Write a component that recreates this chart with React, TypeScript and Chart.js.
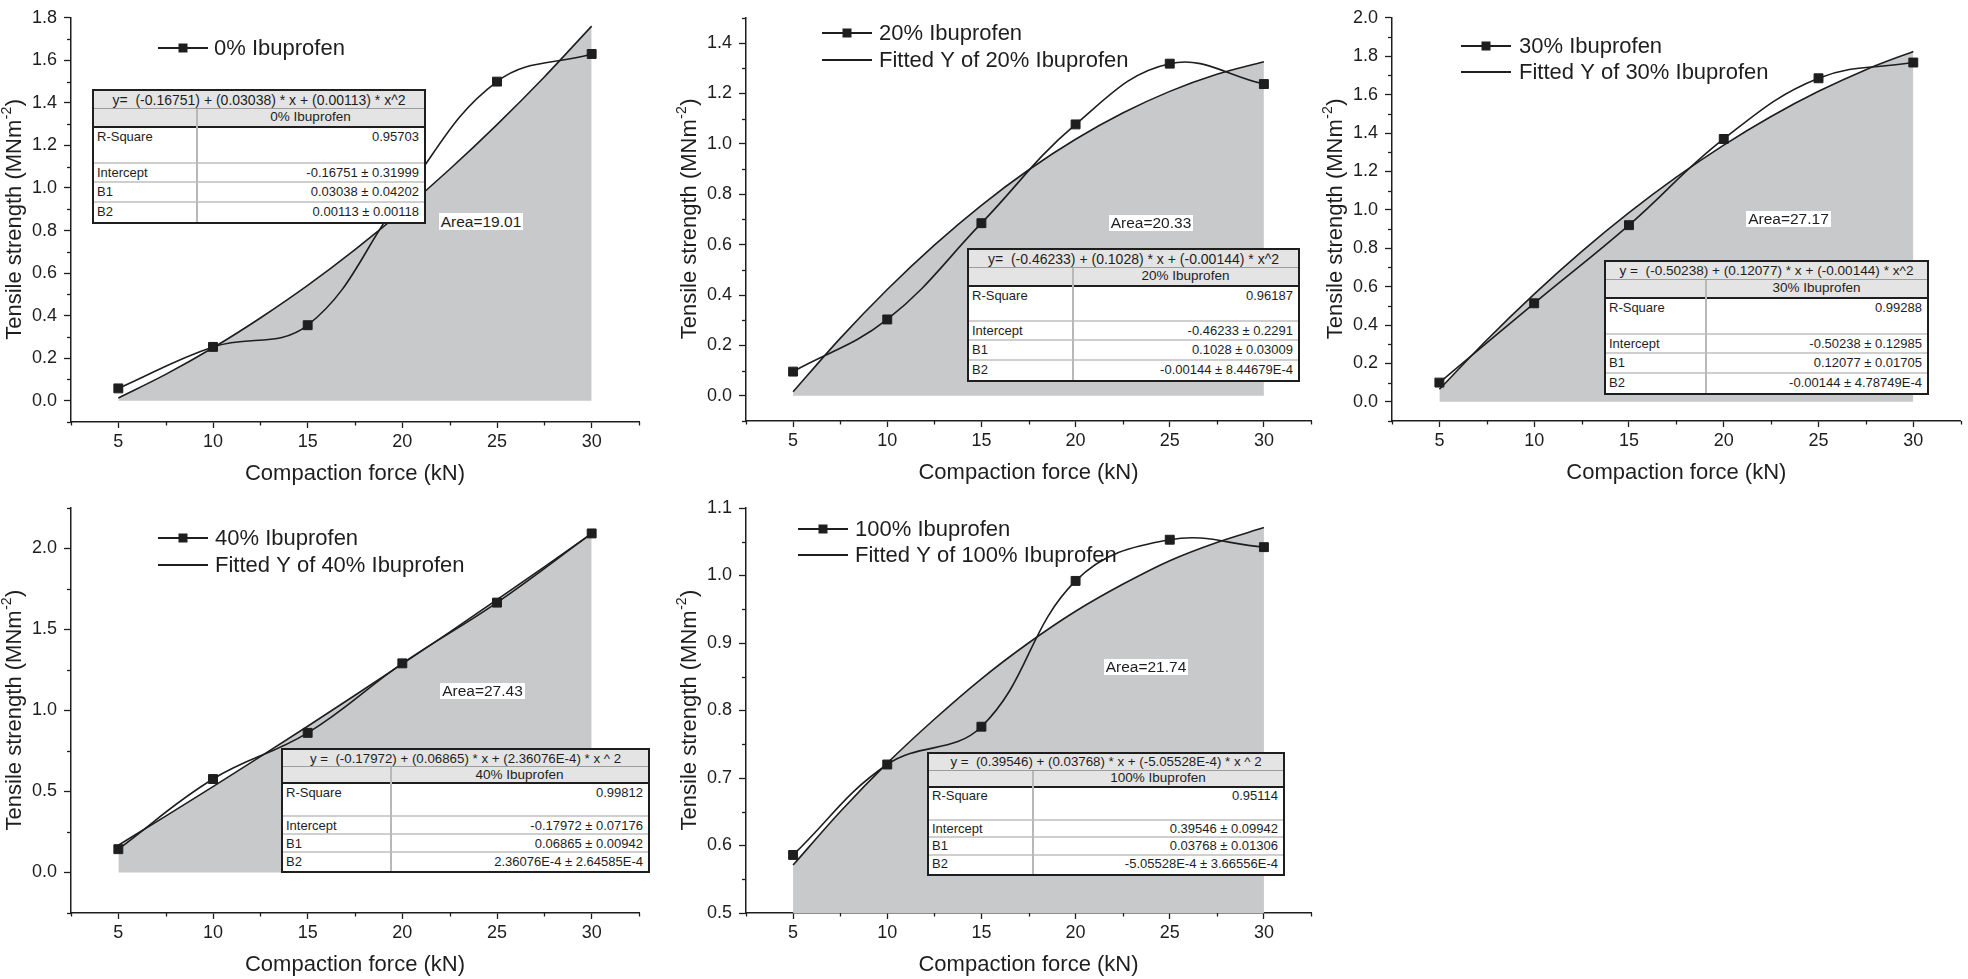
import { useEffect, useRef } from "react";
import { Chart, registerables } from "chart.js";
Chart.register(...registerables);

const FONT = '"Liberation Sans", Arial, Helvetica, sans-serif';
const INK = "#1e1e1e";
const FILL = "#c8c9cb";
const HEAD_BG = "#e4e4e4";

// ---------------- data ----------------
const FORCE_KN = [5, 10, 15, 20, 25, 30];
const FIT_FORCE_KN = [5, 7.5, 10, 12.5, 15, 17.5, 20, 22.5, 25, 27.5, 30];
const X_TICKS = [5, 10, 15, 20, 25, 30];

const TS_0 = [0.058, 0.253, 0.355, 0.96, 1.5, 1.63];
const TS_20 = [0.096, 0.303, 0.685, 1.077, 1.318, 1.237];
const TS_30 = [0.1, 0.513, 0.92, 1.369, 1.685, 1.767];
const TS_40 = [0.144, 0.577, 0.862, 1.291, 1.666, 2.093];
const TS_100 = [0.586, 0.72, 0.776, 0.992, 1.053, 1.042];

const FIT_0 = [0.013, 0.124, 0.249, 0.389, 0.542, 0.71, 0.892, 1.088, 1.298, 1.522, 1.761];
const FIT_20 = [0.016, 0.228, 0.422, 0.598, 0.756, 0.896, 1.018, 1.122, 1.208, 1.276, 1.326];
const FIT_30 = [0.065, 0.322, 0.561, 0.782, 0.985, 1.17, 1.337, 1.486, 1.617, 1.73, 1.825];
const FIT_40 = [0.169, 0.348, 0.53, 0.715, 0.903, 1.094, 1.288, 1.484, 1.684, 1.887, 2.092];
const FIT_100 = [0.571, 0.65, 0.722, 0.787, 0.847, 0.9, 0.947, 0.987, 1.022, 1.049, 1.071];

const Y_TICKS_0 = [0, 0.2, 0.4, 0.6, 0.8, 1.0, 1.2, 1.4, 1.6, 1.8];
const Y_TICKS_20 = [0, 0.2, 0.4, 0.6, 0.8, 1.0, 1.2, 1.4];
const Y_TICKS_30 = [0, 0.2, 0.4, 0.6, 0.8, 1.0, 1.2, 1.4, 1.6, 1.8, 2.0];
const Y_TICKS_40 = [0, 0.5, 1.0, 1.5, 2.0];
const Y_TICKS_100 = [0.5, 0.6, 0.7, 0.8, 0.9, 1.0, 1.1];

const SERIES_NAMES = ["0% Ibuprofen", "20% Ibuprofen", "30% Ibuprofen", "40% Ibuprofen", "100% Ibuprofen"];
const EQUATIONS = [
  "y=  (-0.16751) + (0.03038) * x + (0.00113) * x^2",
  "y=  (-0.46233) + (0.1028) * x + (-0.00144) * x^2",
  "y =  (-0.50238) + (0.12077) * x + (-0.00144) * x^2",
  "y =  (-0.17972) + (0.06865) * x + (2.36076E-4) * x ^ 2",
  "y =  (0.39546) + (0.03768) * x + (-5.05528E-4) * x ^ 2",
];
const R_SQUARE = ["0.95703", "0.96187", "0.99288", "0.99812", "0.95114"];
const INTERCEPTS = ["-0.16751 ± 0.31999", "-0.46233 ± 0.2291", "-0.50238 ± 0.12985", "-0.17972 ± 0.07176", "0.39546 ± 0.09942"];
const B1_VALUES = ["0.03038 ± 0.04202", "0.1028 ± 0.03009", "0.12077 ± 0.01705", "0.06865 ± 0.00942", "0.03768 ± 0.01306"];
const B2_VALUES = ["0.00113 ± 0.00118", "-0.00144 ± 8.44679E-4", "-0.00144 ± 4.78749E-4", "2.36076E-4 ± 2.64585E-4", "-5.05528E-4 ± 3.66556E-4"];
const AREAS = ["Area=19.01", "Area=20.33", "Area=27.17", "Area=27.43", "Area=21.74"];

const X_TITLE = "Compaction force (kN)";
const Y_TITLE = "Tensile strength (MNm";
const Y_TITLE_SUP = "-2";

// ---------------- layout ----------------
type Panel = {
  idx: number;
  data: number[];
  fit: number[];
  yTicks: number[];
  yMin: number;
  yMax: number;
  yMinor: number;
  canvas: { left: number; top: number; w: number; h: number };
  area: { l: number; r: number; t: number; b: number };
  legend: { x1: number; x2: number; tx: number; ys: number[]; fitted: boolean };
  table: { x: number; y: number; w: number; h: number; c1: number; eqSize: number };
  areaBox: { x: number; y: number; w: number; h: number };
};

const PANELS: Panel[] = [
  {
    idx: 0, data: TS_0, fit: FIT_0, yTicks: Y_TICKS_0, yMin: -0.1, yMax: 1.8, yMinor: 0.1,
    canvas: { left: 0, top: 0, w: 656, h: 490 },
    area: { l: 71, r: 639, t: 16, b: 422 },
    legend: { x1: 158, x2: 208, tx: 214, ys: [48], fitted: false },
    table: { x: 92, y: 89, w: 334, h: 135, c1: 103, eqSize: 14 },
    areaBox: { x: 439, y: 213, w: 84, h: 17 },
  },
  {
    idx: 1, data: TS_20, fit: FIT_20, yTicks: Y_TICKS_20, yMin: -0.1, yMax: 1.5, yMinor: 0.1,
    canvas: { left: 660, top: 0, w: 665, h: 490 },
    area: { l: 746, r: 1311, t: 15, b: 421 },
    legend: { x1: 822, x2: 872, tx: 879, ys: [33, 60], fitted: true },
    table: { x: 967, y: 248, w: 333, h: 134, c1: 104, eqSize: 14 },
    areaBox: { x: 1109, y: 215, w: 84, h: 16 },
  },
  {
    idx: 2, data: TS_30, fit: FIT_30, yTicks: Y_TICKS_30, yMin: -0.1, yMax: 2.0, yMinor: 0.1,
    canvas: { left: 1310, top: 0, w: 658, h: 490 },
    area: { l: 1392, r: 1961, t: 16, b: 421 },
    legend: { x1: 1461, x2: 1511, tx: 1519, ys: [46, 72], fitted: true },
    table: { x: 1604, y: 260, w: 325, h: 135, c1: 100, eqSize: 13.6 },
    areaBox: { x: 1746, y: 211, w: 85, h: 16 },
  },
  {
    idx: 3, data: TS_40, fit: FIT_40, yTicks: Y_TICKS_40, yMin: -0.25, yMax: 2.25, yMinor: 0.25,
    canvas: { left: 0, top: 490, w: 656, h: 489 },
    area: { l: 71, r: 639, t: 508, b: 913 },
    legend: { x1: 158, x2: 208, tx: 215, ys: [538, 565], fitted: true },
    table: { x: 281, y: 748, w: 369, h: 125, c1: 108, eqSize: 13.3 },
    areaBox: { x: 440, y: 683, w: 85, h: 16 },
  },
  {
    idx: 4, data: TS_100, fit: FIT_100, yTicks: Y_TICKS_100, yMin: 0.5, yMax: 1.1, yMinor: 0.05,
    canvas: { left: 660, top: 490, w: 665, h: 489 },
    area: { l: 746, r: 1311, t: 508, b: 913 },
    legend: { x1: 798, x2: 848, tx: 855, ys: [529, 555], fitted: true },
    table: { x: 927, y: 752, w: 358, h: 124, c1: 104, eqSize: 13.3 },
    areaBox: { x: 1104, y: 659, w: 84, h: 16 },
  },
];

const X_MIN = 2.5;
const X_MAX = 32.5;
const X_MINOR = 2.5;

function PanelChart({ p }: { p: Panel }) {
  const ref = useRef<HTMLCanvasElement>(null);
  useEffect(() => {
    const canvas = ref.current;
    if (!canvas) return;
    const ox = p.canvas.left;
    const oy = p.canvas.top;
    const L = p.area.l - ox;
    const R = p.area.r - ox;
    const T = p.area.t - oy;
    const B = p.area.b - oy;
    const W = p.canvas.w;
    const H = p.canvas.h;

    const deco = {
      id: "deco" + p.idx,
      afterDraw(chart: any) {
        const ctx = chart.ctx as CanvasRenderingContext2D;
        const xs = chart.scales.x;
        const ys = chart.scales.y;
        const ca = chart.chartArea;
        ctx.save();
        ctx.strokeStyle = INK;
        ctx.lineWidth = 1.3;
        // minor ticks x
        const nx = Math.round((X_MAX - X_MIN) / X_MINOR);
        for (let k = 0; k <= nx; k++) {
          const v = X_MIN + k * X_MINOR;
          if (X_TICKS.some((t) => Math.abs(t - v) < 1e-6)) continue;
          const px = Math.round(xs.getPixelForValue(v)) + 0.5;
          ctx.beginPath();
          ctx.moveTo(px, ca.bottom);
          ctx.lineTo(px, ca.bottom + 3.5);
          ctx.stroke();
        }
        // minor ticks y
        const ny = Math.round((p.yMax - p.yMin) / p.yMinor);
        for (let k = 0; k <= ny; k++) {
          const v = p.yMin + k * p.yMinor;
          if (p.yTicks.some((t) => Math.abs(t - v) < 1e-6)) continue;
          const py = Math.round(ys.getPixelForValue(v)) + 0.5;
          ctx.beginPath();
          ctx.moveTo(ca.left - 4, py);
          ctx.lineTo(ca.left, py);
          ctx.stroke();
        }
        // x title
        ctx.fillStyle = INK;
        ctx.font = `22px ${FONT}`;
        ctx.textAlign = "center";
        ctx.textBaseline = "middle";
        ctx.fillText(X_TITLE, (ca.left + ca.right) / 2, ca.bottom + 52);
        // y title with superscript
        ctx.save();
        ctx.translate(ca.left - 56, (ca.top + ca.bottom) / 2);
        ctx.rotate(-Math.PI / 2);
        ctx.textAlign = "left";
        ctx.textBaseline = "middle";
        ctx.font = `22px ${FONT}`;
        const w1 = ctx.measureText(Y_TITLE).width;
        const w3 = ctx.measureText(")").width;
        ctx.font = `14px ${FONT}`;
        const w2 = ctx.measureText(Y_TITLE_SUP).width;
        let sx = -(w1 + w2 + w3) / 2;
        ctx.font = `22px ${FONT}`;
        ctx.fillText(Y_TITLE, sx, 0);
        sx += w1;
        ctx.font = `14px ${FONT}`;
        ctx.fillText(Y_TITLE_SUP, sx + 0.5, -8);
        sx += w2 + 1;
        ctx.font = `22px ${FONT}`;
        ctx.fillText(")", sx, 0);
        ctx.restore();
        // legend
        const lg = p.legend;
        const entries = [{ label: SERIES_NAMES[p.idx], marker: true }];
        if (lg.fitted) entries.push({ label: "Fitted Y of " + SERIES_NAMES[p.idx], marker: false });
        entries.forEach((e, i) => {
          const y = lg.ys[i] - oy;
          const x1 = lg.x1 - ox;
          const x2 = lg.x2 - ox;
          ctx.strokeStyle = INK;
          ctx.lineWidth = 1.8;
          ctx.beginPath();
          ctx.moveTo(x1, y);
          ctx.lineTo(x2, y);
          ctx.stroke();
          if (e.marker) {
            ctx.fillStyle = INK;
            ctx.fillRect((x1 + x2) / 2 - 4.5, y - 4.5, 9, 9);
          }
          ctx.fillStyle = INK;
          ctx.font = `22px ${FONT}`;
          ctx.textAlign = "left";
          ctx.textBaseline = "middle";
          ctx.fillText(e.label, lg.tx - ox, y + 1);
        });
        ctx.restore();
      },
    };

    const chart = new Chart(canvas, {
      type: "line",
      data: {
        datasets: [
          {
            label: SERIES_NAMES[p.idx],
            data: FORCE_KN.map((x, i) => ({ x, y: p.data[i] })),
            borderColor: INK,
            borderWidth: 1.6,
            pointStyle: "rect",
            pointRadius: 6.3,
            pointBackgroundColor: INK,
            pointBorderColor: INK,
            pointBorderWidth: 1,
            tension: 0.4,
            fill: false,
          },
          {
            label: "Fitted Y of " + SERIES_NAMES[p.idx],
            data: FIT_FORCE_KN.map((x, i) => ({ x, y: p.fit[i] })),
            borderColor: INK,
            borderWidth: 1.6,
            pointRadius: 0,
            cubicInterpolationMode: "monotone",
            fill: "origin",
            backgroundColor: FILL,
          },
        ],
      } as any,
      options: {
        responsive: false,
        animation: false,
        events: [],
        layout: { padding: { left: 0, top: T, right: W - R, bottom: 0 } },
        plugins: { legend: { display: false }, tooltip: { enabled: false }, title: { display: false } },
        scales: {
          x: {
            type: "linear",
            min: X_MIN,
            max: X_MAX,
            afterFit: (s: any) => {
              s.height = H - B;
            },
            afterBuildTicks: (s: any) => {
              s.ticks = X_TICKS.map((v) => ({ value: v }));
            },
            border: { display: true, color: INK, width: 1.5 },
            grid: { display: true, drawOnChartArea: false, drawTicks: true, tickLength: 6, tickColor: INK, tickWidth: 1.3 },
            ticks: {
              color: INK,
              font: { family: FONT, size: 18 },
              padding: 3,
              maxRotation: 0,
              autoSkip: false,
              callback: (v: any) => String(v),
            },
          },
          y: {
            type: "linear",
            min: p.yMin,
            max: p.yMax,
            afterFit: (s: any) => {
              s.width = L;
            },
            afterBuildTicks: (s: any) => {
              s.ticks = p.yTicks.map((v) => ({ value: v }));
            },
            border: { display: true, color: INK, width: 1.5 },
            grid: { display: true, drawOnChartArea: false, drawTicks: true, tickLength: 7, tickColor: INK, tickWidth: 1.3 },
            ticks: {
              color: INK,
              font: { family: FONT, size: 18 },
              padding: 7,
              autoSkip: false,
              callback: (v: any) => Number(v).toFixed(1),
            },
          },
        },
      } as any,
      plugins: [deco as any],
    });
    return () => chart.destroy();
  }, [p]);
  return (
    <canvas
      ref={ref}
      width={p.canvas.w}
      height={p.canvas.h}
      style={{ position: "absolute", left: p.canvas.left, top: p.canvas.top, width: p.canvas.w, height: p.canvas.h }}
    />
  );
}

const ROW_FR = [19, 19, 37, 20, 20, 20];

function StatTable({ p }: { p: Panel }) {
  const t = p.table;
  const inner = t.h - 4;
  const sum = ROW_FR.reduce((a, b) => a + b, 0);
  const hs = ROW_FR.map((f) => (f / sum) * inner);
  const tops: number[] = [];
  let acc = 0;
  hs.forEach((h) => {
    tops.push(acc);
    acc += h;
  });
  const lineH = hs[0];
  const rows = [
    ["R-Square", R_SQUARE[p.idx]],
    ["Intercept", INTERCEPTS[p.idx]],
    ["B1", B1_VALUES[p.idx]],
    ["B2", B2_VALUES[p.idx]],
  ];
  return (
    <div
      style={{
        position: "absolute",
        left: t.x,
        top: t.y,
        width: t.w,
        height: t.h,
        border: `2px solid ${INK}`,
        boxSizing: "border-box",
        background: "#fff",
        fontFamily: FONT,
        fontSize: 13,
        color: INK,
        zIndex: 2,
      }}
    >
      <div
        style={{
          position: "absolute", left: 0, right: 0, top: tops[0], height: hs[0], background: HEAD_BG,
          borderBottom: "1px solid #9c9c9c", boxSizing: "border-box", textAlign: "center",
          lineHeight: `${hs[0]}px`, fontSize: t.eqSize, whiteSpace: "pre",
        }}
      >
        {EQUATIONS[p.idx]}
      </div>
      <div
        style={{
          position: "absolute", left: 0, right: 0, top: tops[1], height: hs[1], background: HEAD_BG,
          borderBottom: `2px solid ${INK}`, boxSizing: "border-box",
        }}
      >
        <div
          style={{
            position: "absolute", left: t.c1, right: 0, top: 0, bottom: 0, textAlign: "center",
            lineHeight: `${hs[1] - 2}px`, fontSize: 13.5,
          }}
        >
          {SERIES_NAMES[p.idx]}
        </div>
      </div>
      {rows.map((r, i) => (
        <div
          key={r[0]}
          style={{
            position: "absolute", left: 0, right: 0, top: tops[i + 2], height: hs[i + 2],
            borderBottom: i < 3 ? "2px solid #cfcfcf" : "none", boxSizing: "border-box",
          }}
        >
          <div style={{ position: "absolute", left: 3, top: 0, lineHeight: `${lineH}px` }}>{r[0]}</div>
          <div style={{ position: "absolute", right: 5, top: 0, lineHeight: `${lineH}px`, whiteSpace: "pre" }}>{r[1]}</div>
        </div>
      ))}
      <div
        style={{
          position: "absolute", left: t.c1 - 1, width: 2, top: tops[1], bottom: 0, background: "#b8b8b8",
        }}
      />
    </div>
  );
}

function AreaLabel({ p }: { p: Panel }) {
  const a = p.areaBox;
  return (
    <div
      style={{
        position: "absolute", left: a.x, top: a.y, width: a.w, height: a.h, background: "#fff",
        fontFamily: FONT, fontSize: 15.5, color: INK, textAlign: "center", lineHeight: `${a.h}px`,
        zIndex: 1, whiteSpace: "pre",
      }}
    >
      {AREAS[p.idx]}
    </div>
  );
}

export default function App() {
  return (
    <div style={{ position: "absolute", left: 0, top: 0, width: 1968, height: 979, background: "#fff", overflow: "hidden" }}>
      {PANELS.map((p) => (
        <PanelChart key={"c" + p.idx} p={p} />
      ))}
      {PANELS.map((p) => (
        <AreaLabel key={"a" + p.idx} p={p} />
      ))}
      {PANELS.map((p) => (
        <StatTable key={"t" + p.idx} p={p} />
      ))}
    </div>
  );
}
